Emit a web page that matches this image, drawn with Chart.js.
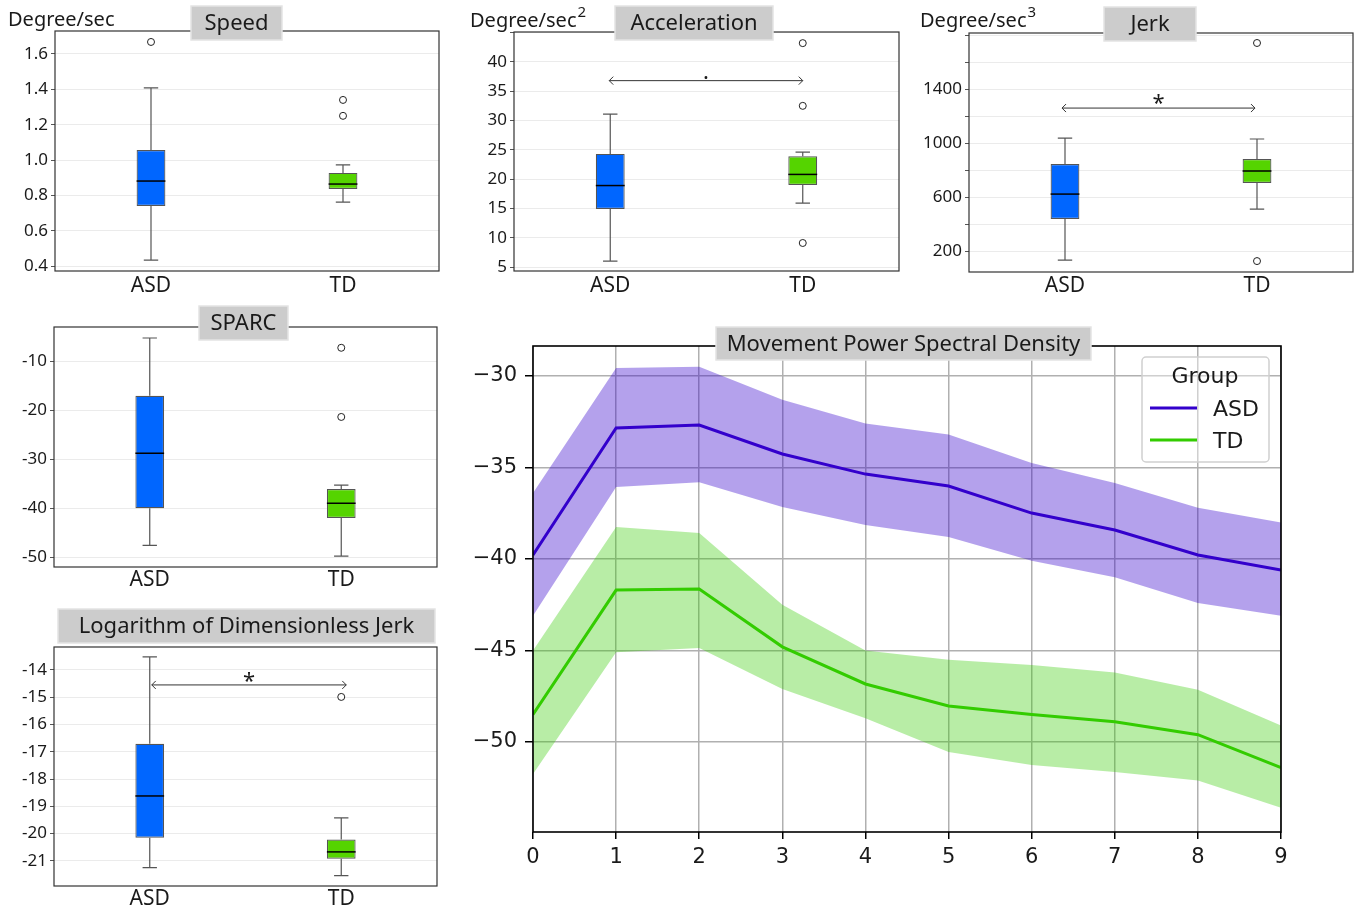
<!DOCTYPE html>
<html>
<head>
<meta charset="utf-8">
<script src="https://cdn.jsdelivr.net/npm/chart.js@4.4.0/dist/chart.umd.min.js"></script>
<style>
    body { margin: 0; background: #fff; width: 1364px; height: 912px; position: relative; overflow: hidden; }
    canvas { position: absolute; }
</style>
</head>
<body>
<canvas id="speed" width="450" height="300" style="left:0;top:0"></canvas>
<canvas id="accel" width="450" height="300" style="left:460px;top:0"></canvas>
<canvas id="jerk" width="454" height="300" style="left:910px;top:0"></canvas>
<canvas id="sparc" width="450" height="300" style="left:0;top:300px"></canvas>
<canvas id="ldj" width="450" height="312" style="left:0;top:600px"></canvas>
<canvas id="psd" width="904" height="592" style="left:460px;top:320px"></canvas>
<script>
var groups = ['ASD', 'TD'];

// box stats: [lower whisker, q1, median, q3, upper whisker]
var speedASD = [0.434, 0.74, 0.881, 1.057, 1.408];
var speedTD = [0.762, 0.836, 0.864, 0.927, 0.972];
var speedOutASD = [1.668];
var speedOutTD = [1.34, 1.25];

var accelASD = [6.0, 14.9, 18.9, 24.3, 31.1];
var accelTD = [15.9, 19.0, 20.8, 23.9, 24.6];
var accelOutASD = [];
var accelOutTD = [43.2, 32.5, 9.1];

var jerkASD = [133, 437, 622, 844, 1037];
var jerkTD = [511, 704, 793, 881, 1030];
var jerkOutASD = [];
var jerkOutTD = [1741, 126];
var jerkTicks = [200, 400, 600, 800, 1000, 1200, 1400, 1600, 1800];
var jerkTickLabels = [200, 600, 1000, 1400];

var sparcASD = [-47.6, -40.0, -28.8, -17.1, -5.3];
var sparcTD = [-49.8, -42.0, -39.0, -36.1, -35.3];
var sparcOutASD = [];
var sparcOutTD = [-7.3, -21.4];

var ldjASD = [-21.25, -20.15, -18.62, -16.71, -13.52];
var ldjTD = [-21.54, -20.92, -20.67, -20.22, -19.42];
var ldjOutASD = [];
var ldjOutTD = [-14.99];

// power spectral density
var psdBins = [0, 1, 2, 3, 4, 5, 6, 7, 8, 9];
var psdASD = [-39.78, -32.84, -32.68, -34.26, -35.36, -36.01, -37.49, -38.42, -39.78, -40.6];
var psdASDHigh = [-36.4, -29.56, -29.5, -31.3, -32.6, -33.2, -34.75, -35.85, -37.2, -38.0];
var psdASDLow = [-43.1, -36.07, -35.8, -37.16, -38.14, -38.8, -40.1, -41.0, -42.4, -43.1];
var psdTD = [-48.5, -41.7, -41.64, -44.8, -46.83, -48.03, -48.5, -48.9, -49.6, -51.4];
var psdTDHigh = [-45.0, -38.25, -38.58, -42.5, -45.0, -45.5, -45.8, -46.2, -47.15, -49.1];
var psdTDLow = [-51.75, -45.1, -44.86, -47.1, -48.7, -50.55, -51.26, -51.64, -52.1, -53.6];

var FONT = "'Noto Sans', 'Open Sans', sans-serif";
var MPL_FONT = "'DejaVu Sans', sans-serif";
var TEXT = '#1a1a1a';

function drawTitleBox(ctx, text, x, y, w, h) {
    ctx.save();
    ctx.fillStyle = '#cccccc';
    ctx.fillRect(x, y, w, h);
    ctx.strokeStyle = '#e4e4e4';
    ctx.lineWidth = 1.5;
    ctx.strokeRect(x, y, w, h);
    ctx.fillStyle = TEXT;
    ctx.font = '22px ' + FONT;
    ctx.textAlign = 'center';
    ctx.textBaseline = 'middle';
    ctx.fillText(text, x + w / 2, y + h / 2 + 1);
    ctx.restore();
}

function makeBoxChart(id, c) {
    var outliers = [];
    c.outASD.forEach(function (v) { outliers.push({ x: 'ASD', y: v }); });
    c.outTD.forEach(function (v) { outliers.push({ x: 'TD', y: v }); });
    var stats = [c.asd, c.td];

    var extras = {
        id: 'boxExtras',
        afterDatasetsDraw: function (chart) {
            var ctx = chart.ctx, xs = chart.scales.x, ys = chart.scales.y;
            var bars = chart.getDatasetMeta(0).data;
            ctx.save();
            stats.forEach(function (s, i) {
                var cx = xs.getPixelForValue(i);
                var half = bars[i].width / 2;
                ctx.strokeStyle = '#555';
                ctx.lineWidth = 1.2;
                ctx.beginPath();
                ctx.moveTo(cx, ys.getPixelForValue(s[3]));
                ctx.lineTo(cx, ys.getPixelForValue(s[4]));
                ctx.moveTo(cx, ys.getPixelForValue(s[1]));
                ctx.lineTo(cx, ys.getPixelForValue(s[0]));
                ctx.moveTo(cx - half / 2, ys.getPixelForValue(s[4]));
                ctx.lineTo(cx + half / 2, ys.getPixelForValue(s[4]));
                ctx.moveTo(cx - half / 2, ys.getPixelForValue(s[0]));
                ctx.lineTo(cx + half / 2, ys.getPixelForValue(s[0]));
                ctx.stroke();
                ctx.strokeStyle = '#000';
                ctx.lineWidth = 1.5;
                ctx.beginPath();
                ctx.moveTo(cx - half, ys.getPixelForValue(s[2]));
                ctx.lineTo(cx + half, ys.getPixelForValue(s[2]));
                ctx.stroke();
            });
            if (c.bracket) {
                var by = ys.getPixelForValue(c.bracket.y);
                var x0 = xs.getPixelForValue(0) + c.bracket.dx[0];
                var x1 = xs.getPixelForValue(1) + c.bracket.dx[1];
                ctx.strokeStyle = '#333';
                ctx.lineWidth = 1;
                ctx.beginPath();
                ctx.moveTo(x0, by); ctx.lineTo(x1, by);
                ctx.moveTo(x0 + 4, by - 4); ctx.lineTo(x0, by); ctx.lineTo(x0 + 4, by + 4);
                ctx.moveTo(x1 - 4, by - 4); ctx.lineTo(x1, by); ctx.lineTo(x1 - 4, by + 4);
                ctx.stroke();
                ctx.fillStyle = TEXT;
                ctx.font = '22px ' + FONT;
                ctx.textAlign = 'center';
                ctx.textBaseline = 'alphabetic';
                ctx.fillText(c.bracket.mark, (x0 + x1) / 2, by + c.bracket.dy);
            }
            ctx.restore();
        },
        afterDraw: function (chart) {
            var ctx = chart.ctx, a = chart.chartArea;
            ctx.save();
            ctx.strokeStyle = '#333';
            ctx.lineWidth = 1.2;
            ctx.strokeRect(a.left, a.top, a.right - a.left, a.bottom - a.top);
            ctx.restore();
            drawTitleBox(ctx, c.title, c.tbox[0], c.tbox[1], c.tbox[2], c.tbox[3]);
            if (c.unit) {
                ctx.save();
                ctx.fillStyle = TEXT;
                ctx.font = '20px ' + FONT;
                ctx.textBaseline = 'alphabetic';
                ctx.fillText('Degree/sec', c.unit[0], c.unit[1]);
                if (c.unit[2]) {
                    var w = ctx.measureText('Degree/sec').width;
                    ctx.font = '15px ' + FONT;
                    ctx.fillText(c.unit[2], c.unit[0] + w + 1, c.unit[1] - 10);
                }
                ctx.restore();
            }
        }
    };

    return new Chart(document.getElementById(id), {
        type: 'bar',
        data: {
            labels: groups,
            datasets: [{
                data: [[c.asd[1], c.asd[3]], [c.td[1], c.td[3]]],
                backgroundColor: ['#0066ff', '#55d400'],
                borderColor: '#555',
                borderWidth: 1.2,
                borderSkipped: false,
                barPercentage: 0.3,
                categoryPercentage: 0.5
            }, {
                type: 'scatter',
                data: outliers,
                pointRadius: 3.5,
                pointBackgroundColor: '#fff',
                pointBorderColor: '#222',
                pointBorderWidth: 1
            }]
        },
        options: {
            responsive: false,
            animation: false,
            events: [],
            layout: { padding: { top: c.pad[0], right: c.pad[1], left: 0, bottom: 0 } },
            plugins: { legend: { display: false }, tooltip: { enabled: false } },
            scales: {
                x: {
                    type: 'category',
                    grid: { display: false, drawTicks: false },
                    border: { display: false },
                    ticks: { color: TEXT, font: { family: FONT, size: 21 }, padding: c.xpad || 0 },
                    afterFit: function (s) { s.height = c.xh; }
                },
                y: {
                    type: 'linear',
                    min: c.min, max: c.max,
                    grid: { color: '#ebebeb', tickColor: '#555', tickLength: 4 },
                    border: { display: false },
                    ticks: {
                        stepSize: c.step, includeBounds: false, autoSkip: false, color: TEXT,
                        font: { family: FONT, size: 17 }, padding: 3,
                        callback: c.fmt
                    },
                    afterBuildTicks: function (s) {
                        if (c.ticks) s.ticks = c.ticks.map(function (v) { return { value: v }; });
                    },
                    afterFit: function (s) { s.width = c.yw; }
                }
            }
        },
        plugins: [extras]
    });
}

makeBoxChart('speed', {
    asd: speedASD, td: speedTD, outASD: speedOutASD, outTD: speedOutTD,
    min: 0.372, max: 1.73, step: 0.2, yw: 55, xh: 29, xpad: 2, pad: [31, 11],
    fmt: function (v) { return v.toFixed(1); },
    title: 'Speed', tbox: [191, 6, 91, 34], unit: [8, 26]
});
makeBoxChart('accel', {
    asd: accelASD, td: accelTD, outASD: accelOutASD, outTD: accelOutTD,
    min: 4.32, max: 45.1, step: 5, yw: 54, xh: 29, xpad: 2, pad: [32, 11],
    fmt: function (v) { return v > 40 ? '' : String(v); },
    title: 'Acceleration', tbox: [155, 6, 158, 34], unit: [10, 27, '2'],
    bracket: { y: 36.8, mark: '.', dy: -2, dx: [-1, 0] }
});
makeBoxChart('jerk', {
    asd: jerkASD, td: jerkTD, outASD: jerkOutASD, outTD: jerkOutTD,
    min: 45, max: 1815, step: 200, ticks: jerkTicks, yw: 59, xh: 28, xpad: 1, pad: [33, 11],
    fmt: function (v) { return jerkTickLabels.indexOf(v) >= 0 ? String(v) : ''; },
    title: 'Jerk', tbox: [194, 7, 92, 34], unit: [10, 27, '3'],
    bracket: { y: 1259, mark: '*', dy: 2, dx: [-3, -2] }
});
makeBoxChart('sparc', {
    asd: sparcASD, td: sparcTD, outASD: sparcOutASD, outTD: sparcOutTD,
    min: -52, max: -3.06, step: 10, yw: 54, xh: 33, pad: [27, 13],
    fmt: function (v) { return String(v); },
    title: 'SPARC', tbox: [199, 6, 89, 34]
});
makeBoxChart('ldj', {
    asd: ldjASD, td: ldjTD, outASD: ldjOutASD, outTD: ldjOutTD,
    min: -21.92, max: -13.16, step: 1, yw: 54, xh: 26, pad: [47, 13],
    fmt: function (v) { return String(v); },
    title: 'Logarithm of Dimensionless Jerk', tbox: [58, 9, 377, 34],
    bracket: { y: -14.55, mark: '*', dy: 3, dx: [2, 5] }
});

// PSD line chart with bands
function pts(arr) {
    return psdBins.map(function (b, i) { return { x: b, y: arr[i] }; });
}
var ASD_LINE = '#3300cc', TD_LINE = '#33cc00';
var band = { borderWidth: 0, pointRadius: 0, tension: 0 };

var psdExtras = {
    id: 'psdExtras',
    afterDraw: function (chart) {
        var ctx = chart.ctx, a = chart.chartArea;
        ctx.save();
        ctx.strokeStyle = '#000';
        ctx.lineWidth = 1.6;
        ctx.strokeRect(a.left, a.top, a.right - a.left, a.bottom - a.top);
        // legend
        ctx.fillStyle = 'rgba(255,255,255,0.4)';
        ctx.strokeStyle = '#d0d0d0';
        ctx.lineWidth = 1.5;
        ctx.beginPath();
        ctx.roundRect(682, 37, 127, 105, 4);
        ctx.fill();
        ctx.stroke();
        ctx.fillStyle = TEXT;
        ctx.font = '22px ' + MPL_FONT;
        ctx.textAlign = 'center';
        ctx.textBaseline = 'middle';
        ctx.fillText('Group', 745, 57);
        ctx.textAlign = 'left';
        ctx.fillText('ASD', 753, 90);
        ctx.fillText('TD', 753, 122);
        ctx.lineWidth = 3;
        ctx.strokeStyle = ASD_LINE;
        ctx.beginPath(); ctx.moveTo(690, 88); ctx.lineTo(737, 88); ctx.stroke();
        ctx.strokeStyle = TD_LINE;
        ctx.beginPath(); ctx.moveTo(690, 120); ctx.lineTo(737, 120); ctx.stroke();
        ctx.restore();
        drawTitleBox(ctx, 'Movement Power Spectral Density', 256, 7, 375, 33);
    }
};

new Chart(document.getElementById('psd'), {
    type: 'line',
    data: {
        datasets: [
            Object.assign({ data: pts(psdASDHigh), fill: '+1', backgroundColor: 'rgba(51,0,204,0.37)' }, band),
            Object.assign({ data: pts(psdASDLow), fill: false }, band),
            Object.assign({ data: pts(psdTDHigh), fill: '+1', backgroundColor: 'rgba(51,204,0,0.35)' }, band),
            Object.assign({ data: pts(psdTDLow), fill: false }, band),
            { label: 'ASD', data: pts(psdASD), borderColor: ASD_LINE, borderWidth: 3, pointRadius: 0, tension: 0, fill: false },
            { label: 'TD', data: pts(psdTD), borderColor: TD_LINE, borderWidth: 3, pointRadius: 0, tension: 0, fill: false }
        ]
    },
    options: {
        responsive: false,
        animation: false,
        events: [],
        layout: { padding: { top: 26, right: 83, left: 0, bottom: 0 } },
        plugins: { legend: { display: false }, tooltip: { enabled: false } },
        scales: {
            x: {
                type: 'linear', min: 0, max: 9,
                grid: { color: '#b0b0b0', lineWidth: 1.5, tickColor: '#000', tickLength: 7 },
                border: { display: false },
                ticks: { stepSize: 1, color: TEXT, font: { family: MPL_FONT, size: 21 }, padding: 6 },
                afterFit: function (s) { s.height = 80; }
            },
            y: {
                min: -54.92, max: -28.36,
                grid: { color: '#b0b0b0', lineWidth: 1.5, tickColor: '#000', tickLength: 8 },
                border: { display: false },
                ticks: {
                    stepSize: 5, includeBounds: false, color: TEXT,
                    font: { family: MPL_FONT, size: 21 }, padding: 8,
                    callback: function (v) { return '\u2212' + Math.abs(v); }
                },
                afterFit: function (s) { s.width = 73; }
            }
        }
    },
    plugins: [psdExtras]
});
</script>
</body>
</html>
